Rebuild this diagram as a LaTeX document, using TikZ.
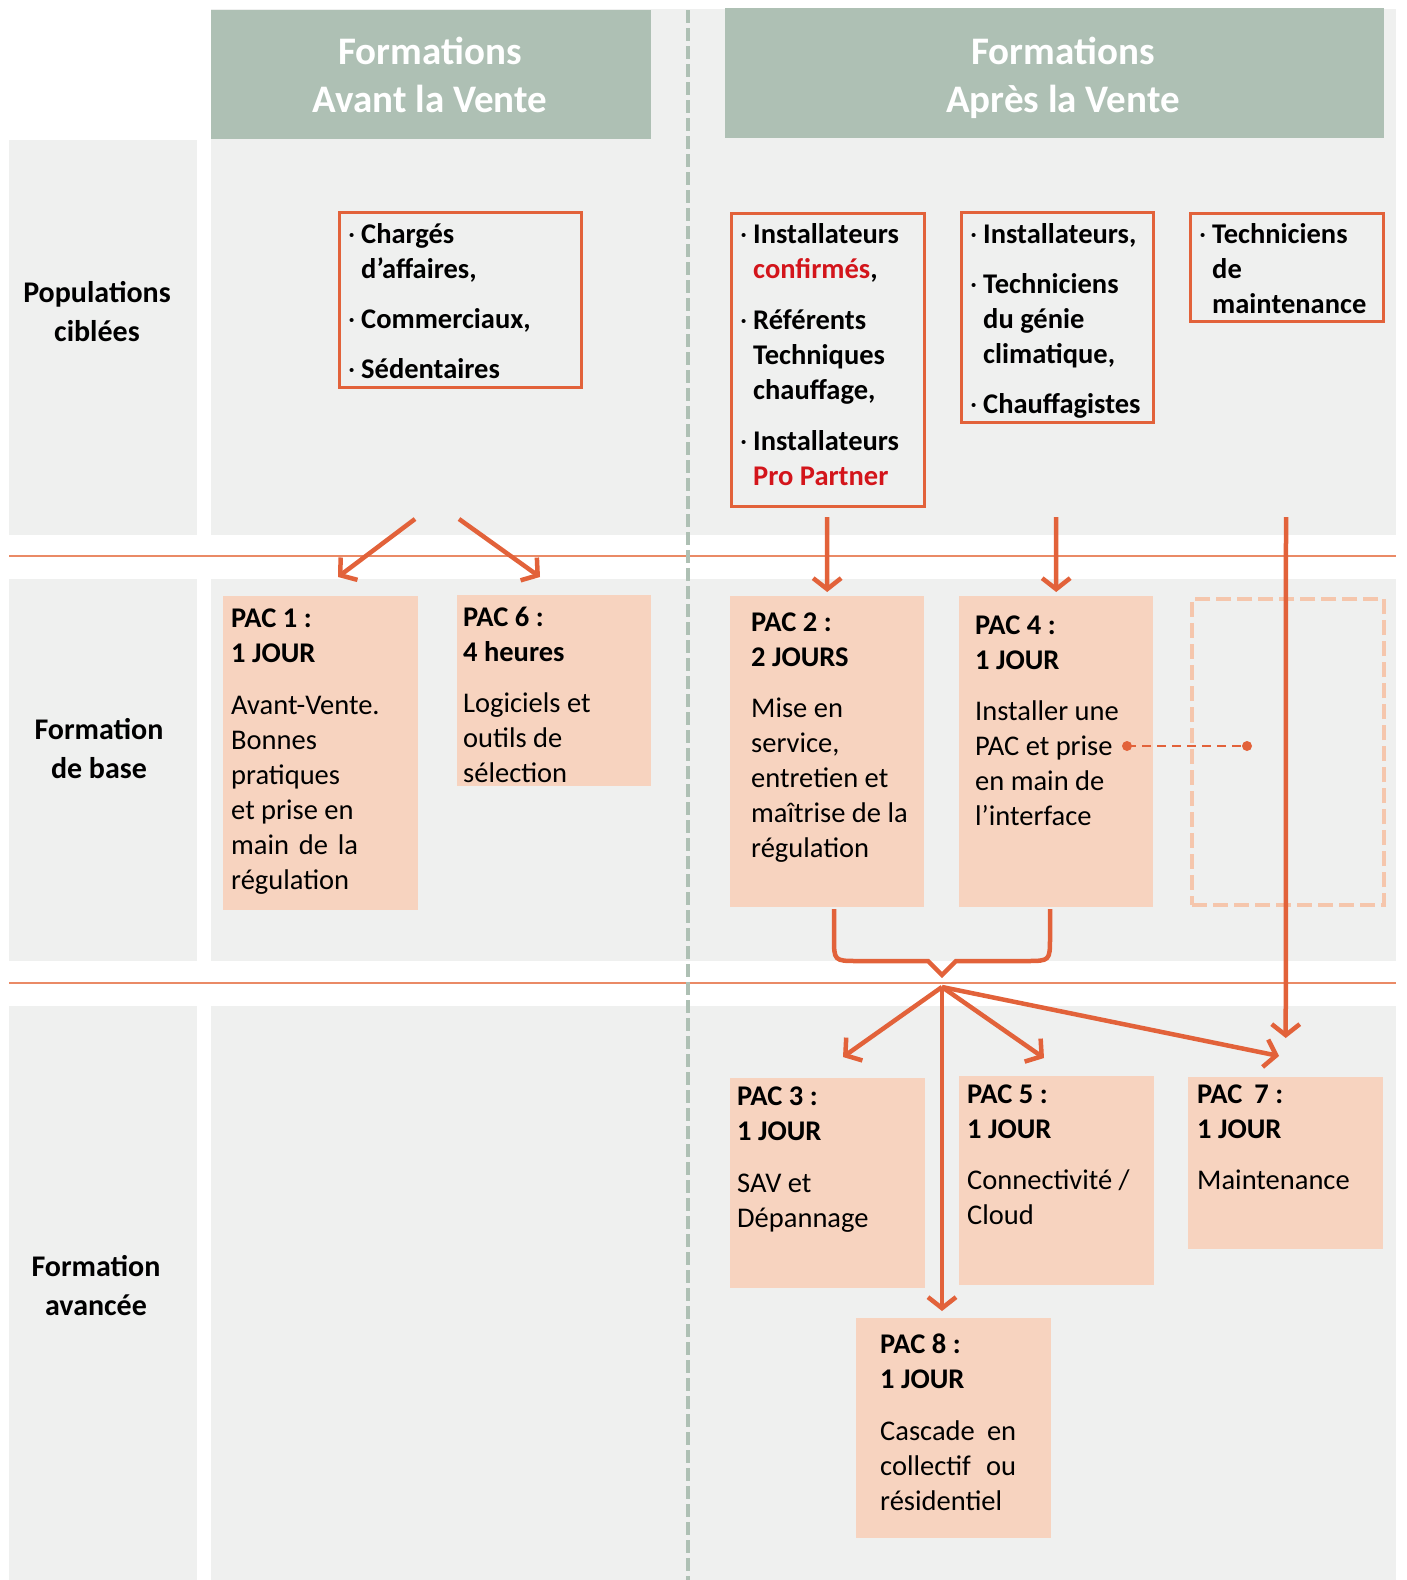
\documentclass[tikz,border=0pt]{standalone}
\usepackage{fontspec}
\setmainfont{Carlito}
\usetikzlibrary{arrows.meta}
\definecolor{bggray}{HTML}{EFF0EF}
\definecolor{hdrgreen}{HTML}{AEC0B4}
\definecolor{orng}{HTML}{E2623A}
\definecolor{lineorng}{HTML}{EA8A66}
\definecolor{pacfill}{HTML}{F7D3BF}
\definecolor{dashorng}{HTML}{F5C6AC}
\definecolor{redtxt}{HTML}{D3151B}
\newcommand{\popbul}{\makebox[13pt][l]{\mdseries·}}
\newcommand{\popind}{\hspace*{13pt}}
\begin{document}
\begin{tikzpicture}[x=1pt,y=-1pt,
  hdr/.style={fill=hdrgreen, draw=none, anchor=north west, inner sep=0pt},
  hdrtxt/.style={inner sep=0pt, anchor=base, align=center, text=white, font=\bfseries\fontsize{39}{48}\selectfont},
  rowlbl/.style={inner sep=0pt, anchor=base, align=center, font=\bfseries\fontsize{30}{39}\selectfont},
  popbox/.style={draw=orng, line width=3pt, anchor=north west, inner sep=0pt},
  poptxt/.style={inner sep=0pt, anchor=base west, align=left, font=\bfseries\fontsize{28.5}{35}\selectfont},
  pacbox/.style={fill=pacfill, draw=none, anchor=north west, inner sep=0pt},
  dashbox/.style={draw=dashorng, line width=4pt, dash pattern=on 15pt off 6pt, anchor=north west, inner sep=0pt},
  pactxt/.style={inner sep=0pt, anchor=base west, align=left, font=\fontsize{28.5}{35}\selectfont},
  arr/.style={draw=orng, line width=4.5pt, -{Straight Barb[length=11pt,width=28pt]}},
  brace/.style={draw=orng, line width=4.5pt},
  dotline/.style={draw=orng, line width=2.5pt, dash pattern=on 9pt off 6pt},
  sepline/.style={draw=lineorng, line width=1.8pt},
  divider/.style={draw=hdrgreen, line width=4pt, dash pattern=on 13pt off 5pt}
]
\useasboundingbox (0,0) rectangle (1406,1580);
% backgrounds
\fill[bggray] (9,140) rectangle (197,535);
\fill[bggray] (9,579) rectangle (197,961);
\fill[bggray] (9,1006) rectangle (197,1580);
\fill[bggray] (211,9) rectangle (1396,535);
\fill[bggray] (211,579) rectangle (1396,961);
\fill[bggray] (211,1006) rectangle (1396,1580);
% separators
\draw[sepline] (9,556) -- (1396,556);
\draw[sepline] (9,983) -- (1396,983);
\draw[divider] (688,10) -- (688,1580);
% headers
\node[hdr, minimum width=440pt, minimum height=129pt] (h1) at (211,10) {};
\node[hdr, minimum width=659pt, minimum height=130pt] (h2) at (725,8) {};
\node[hdrtxt] (h1t) at (430,112) {Formations\\Avant la Vente};
\node[hdrtxt] (h2t) at (1063,112) {Formations\\Après la Vente};
% row labels (anchored at last baseline)
\node[rowlbl] (r1) at (97,341) {Populations\\ciblées};
\node[rowlbl] (r2) at (99,778) {Formation\\de base};
\node[rowlbl] (r3) at (96,1315) {Formation\\avancée};
% population boxes
\node[popbox, minimum width=242pt, minimum height=175pt] (b1) at (338,211) {};
\node[popbox, minimum width=193pt, minimum height=293pt] (b2) at (730,212) {};
\node[popbox, minimum width=192pt, minimum height=210pt] (b3) at (960,211) {};
\node[popbox, minimum width=193pt, minimum height=108pt] (b4) at (1189,212) {};
\node[poptxt] (b1t) at (348,378) {\popbul Chargés\\\popind d'affaires,\\[15pt]\popbul Commerciaux,\\[15pt]\popbul Sédentaires};
\node[poptxt] (b2t) at (740,485) {\popbul Installateurs\\\popind\textcolor{redtxt}{confirmés},\\[16pt]\popbul Référents\\\popind Techniques\\\popind chauffage,\\[16pt]\popbul Installateurs\\\popind\textcolor{redtxt}{Pro Partner}};
\node[poptxt] (b3t) at (970,413) {\popbul Installateurs,\\[15pt]\popbul Techniciens\\\popind du génie\\\popind climatique,\\[15pt]\popbul Chauffagistes};
\node[poptxt] (b4t) at (1199,313) {\popbul Techniciens\\\popind de\\\popind maintenance};
% PAC boxes
\node[pacbox, minimum width=195pt, minimum height=314pt] (pac1) at (223,596) {};
\node[pacbox, minimum width=194pt, minimum height=191pt] (pac6) at (457,595) {};
\node[pacbox, minimum width=194pt, minimum height=311pt] (pac2) at (730,596) {};
\node[pacbox, minimum width=194pt, minimum height=311pt] (pac4) at (959,596) {};
\node[dashbox, minimum width=192pt, minimum height=306pt] (empty) at (1190,597) {};
\node[pacbox, minimum width=195pt, minimum height=210pt] (pac3) at (730,1078) {};
\node[pacbox, minimum width=195pt, minimum height=209pt] (pac5) at (959,1076) {};
\node[pacbox, minimum width=195pt, minimum height=172pt] (pac7) at (1188,1077) {};
\node[pacbox, minimum width=195pt, minimum height=220pt] (pac8) at (856,1318) {};
\node[pactxt] (pac1t) at (231,889) {\textbf{PAC 1 :}\\\textbf{1 JOUR}\\[17pt]Avant-Vente.\\Bonnes\\pratiques\\et prise en\\\makebox[127pt][s]{main de la}\\régulation};
\node[pactxt] (pac6t) at (463,782) {\textbf{PAC 6 :}\\\textbf{4 heures}\\[16pt]Logiciels et\\outils de\\sélection};
\node[pactxt] (pac2t) at (751,857) {\textbf{PAC 2 :}\\\textbf{2 JOURS}\\[16pt]Mise en\\service,\\entretien et\\maîtrise de la\\régulation};
\node[pactxt] (pac4t) at (975,825) {\textbf{PAC 4 :}\\\textbf{1 JOUR}\\[16pt]Installer une\\PAC et prise\\en main de\\l'interface};
\node[pactxt] (pac3t) at (737,1227) {\textbf{PAC 3 :}\\\textbf{1 JOUR}\\[17pt]SAV et\\Dépannage};
\node[pactxt] (pac5t) at (967,1224) {\textbf{PAC 5 :}\\\textbf{1 JOUR}\\[16pt]Connectivité /\\Cloud};
\node[pactxt] (pac7t) at (1197,1189) {\textbf{PAC\hspace{12pt}7 :}\\\textbf{1 JOUR}\\[16pt]Maintenance};
\node[pactxt] (pac8t) at (880,1510) {\textbf{PAC 8 :}\\\textbf{1 JOUR}\\[17pt]\makebox[136pt][s]{Cascade en}\\\makebox[136pt][s]{collectif ou}\\résidentiel};
% connectors
\coordinate (s1a) at (415,519);
\coordinate (t1a) at (338,577);
\coordinate (s1b) at (459,519);
\coordinate (t1b) at (540,577);
\coordinate (s2) at (827,517);
\coordinate (s4) at (1056,517);
\coordinate (s7) at (1286,517);
\coordinate (hub) at (942,987);
\coordinate (t3) at (843,1057);
\coordinate (t5) at (1044,1058);
\coordinate (t7) at (1279,1056);
\coordinate (t8) at (942,1311);
\draw[arr] (s1a) -- (t1a);
\draw[arr] (s1b) -- (t1b);
\draw[arr, shorten >=4pt] (s2) -- (pac2.north);
\draw[arr, shorten >=4pt] (s4) -- (pac4.north);
\draw[arr, shorten >=39pt] (s7) -- (pac7.north);
\draw[brace] (834,909) -- (834,937) .. controls (834,961) .. (858,961) -- (928,961) -- (942,975) -- (956,961) -- (1026,961) .. controls (1050,961) .. (1050,937) -- (1050,909);
\draw[arr] (hub) -- (t3);
\draw[arr] (hub) -- (t5);
\draw[arr] (hub) -- (t7);
\draw[arr] (hub) -- (t8);
% dotted link
\coordinate (d1) at (1127,746);
\coordinate (d2) at (1247,746);
\draw[dotline] (d1) -- (d2);
\fill[orng] (d1) circle (5pt);
\fill[orng] (d2) circle (5pt);
\end{tikzpicture}
\end{document}
